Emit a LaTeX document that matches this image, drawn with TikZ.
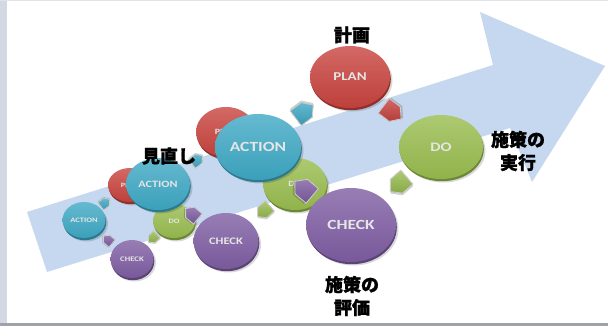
\documentclass[tikz,border=0pt]{standalone}
\usepackage{fontspec}
\setsansfont{Carlito}
\newfontfamily\jp[BoldFeatures={FakeBold=1.2}]{Noto Sans CJK JP}
\definecolor{cred}{HTML}{C8433E}
\definecolor{cteal}{HTML}{3EA8C4}
\definecolor{cgreen}{HTML}{98BC4E}
\definecolor{cpurple}{HTML}{7E5DA2}
\definecolor{carrow}{HTML}{C6D8EF}
\definecolor{frameside}{HTML}{D2D9E2}
\definecolor{framebot}{HTML}{9EA3AB}
\tikzset{
  disctext/.style={inner sep=0pt, text=white!90!black},
  jplabel/.style={inner sep=0pt, font=\jp\bfseries\fontsize{18}{23}\selectfont, align=center, text=black},
}
% name, x, y, rx, ry, colour, text, font size
\newcommand\mydisc[8]{%
  \fill[black,opacity=0.15] (#2+2.5,#3+3.5) ellipse[x radius=#4, y radius=#5];
  \fill[#6!72!black] (#2+0.8,#3+2.2) ellipse[x radius=#4, y radius=#5];
  \shade[top color=#6!80!white, bottom color=#6!95!black] (#2,#3) ellipse[x radius=#4, y radius=#5];
  \node[disctext, font=\sffamily\bfseries\fontsize{#8}{#8}\selectfont] (#1) at (#2,#3) {\scalebox{1.25}[1]{#7}};
}
% name, x, y, angle, scale, colour
\newcommand\myarrow[6]{%
  \coordinate (#1) at (#2,#3);
  \begin{scope}[shift={(#2,#3)}, rotate=#4, scale=#5]
    \fill[black,opacity=0.18] (-9,-8) ++(1,-1.5) -- ++(12,0) -- ++(7,8) -- ++(-7,8) -- ++(-12,0) -- cycle;
    \filldraw[draw=white!80!black, line width=0.9pt, top color=#6!80!white, bottom color=#6!90!black]
      (-9,-8) -- (3,-8) -- (10,0) -- (3,8) -- (-9,8) -- cycle;
  \end{scope}
}
\begin{document}
\begin{tikzpicture}[x=1pt,y=-1pt]
\useasboundingbox (0,0) rectangle (608,326);
% frame
\fill[white] (0,0) rectangle (608,326);
\fill[frameside] (0,0) rectangle (7,326);
\fill[frameside!70!white] (0,0) rectangle (608,1.5);
\fill[framebot] (0,323) rectangle (608,325.5);
% big background arrow
\fill[carrow] (27,212) -- (493,65) -- (480,12) -- (605,66) -- (532,182) -- (510,128) -- (47,272) -- cycle;
% cycle 1
\mydisc{act1}{84}{220}{21.5}{18}{cteal}{ACTION}{6.8}
\mydisc{chk1}{132}{259}{21.5}{19}{cpurple}{CHECK}{7}
\mydisc{pl1}{130}{185}{22}{17}{cred}{PLAN}{6.5}
\mydisc{do1}{174}{221}{21}{17}{cgreen}{DO}{6.7}
% cycle 2
\mydisc{pl2}{226}{132}{30}{25}{cred}{PLAN}{8}
\mydisc{do2}{295}{184}{32}{26}{cgreen}{DO}{8}
\mydisc{chk2}{226}{241}{32.5}{28}{cpurple}{CHECK}{10}
\mydisc{act2}{158}{184}{32}{26}{cteal}{ACTION}{9.7}
% cycle 3
\mydisc{plan}{350}{77}{40}{31}{cred}{PLAN}{12}
\mydisc{do}{441}{147}{42}{32}{cgreen}{DO}{13}
\mydisc{chk}{351}{225}{45}{37}{cpurple}{CHECK}{14}
\mydisc{act}{258}{147}{43}{33}{cteal}{ACTION}{14}
% small block arrows
\myarrow{a1}{105}{203}{37}{0.6}{cteal}
\myarrow{c1}{153}{238}{-139}{0.6}{cgreen}
\myarrow{d1}{108}{240}{140}{0.6}{cpurple}
\myarrow{a2}{197}{160}{37}{0.7}{cteal}
\myarrow{c2}{264}{211}{-139}{0.85}{cgreen}
\myarrow{d2}{192}{214}{140}{0.85}{cpurple}
\myarrow{a3}{304}{112}{37}{1.15}{cteal}
\myarrow{b3}{392}{112}{-37}{1.15}{cred}
\myarrow{c3}{399}{184}{-139}{1.15}{cgreen}
\myarrow{d3}{304}{189}{140}{1.2}{cpurple}
% labels
\node[jplabel] (lplan) at (352,35) {計画};
\node[jplabel] (ldo) at (518,151) {施策の\\実行};
\node[jplabel] (lchk) at (352,296) {施策の\\評価};
\node[jplabel] (lact) at (169,156) {見直し};
\end{tikzpicture}
\end{document}
